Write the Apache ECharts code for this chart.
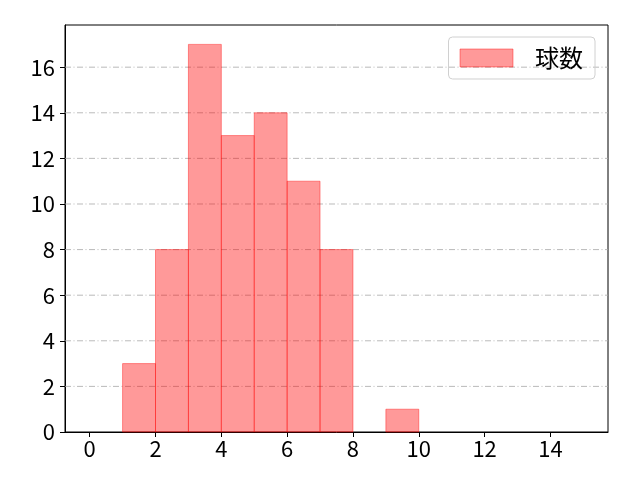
<!DOCTYPE html>
<html><head><meta charset="utf-8">
<script src="https://cdn.jsdelivr.net/npm/echarts@6/dist/echarts.min.js"></script>
<style>html,body{margin:0;padding:0;background:#fff}#c{width:640px;height:480px}</style>
</head><body><div id="c"></div>
<script>
const binStarts = [1, 2, 3, 4, 5, 6, 7, 8, 9];
const binEnds   = [2, 3, 4, 5, 6, 7, 8, 9, 10];
const counts    = [3, 8, 17, 13, 14, 11, 8, 0, 1];
const xTicks = [0, 2, 4, 6, 8, 10, 12, 14];
const yTicks = [0, 2, 4, 6, 8, 10, 12, 14, 16];
const seriesName = '球数';

const font = '"Noto Sans CJK JP", "DejaVu Sans", sans-serif';
const chart = echarts.init(document.getElementById('c'));
chart.setOption({
  animation: false,
  grid: {left: 65, right: 32, top: 25, bottom: 48, show: true, borderColor: '#000', borderWidth: 1},
  legend: {
    show: true, right: 45, top: 37, padding: [9, 12, 9, 11],
    itemWidth: 53, itemHeight: 18, itemGap: 10,
    borderColor: '#d0d0d0', borderWidth: 1, borderRadius: 4,
    textStyle: {fontFamily: font, fontSize: 24, color: '#000', padding: [0, 0, 0, 17]},
    data: [{name: seriesName, icon: 'rect', itemStyle: {color: 'rgba(255,0,0,0.4)', borderColor: 'rgba(255,0,0,0.4)', borderWidth: 1}}]
  },
  xAxis: {
    type: 'value', min: -0.75, max: 15.75,
    axisLine: {show: true, onZero: false, lineStyle: {color: '#000'}},
    axisTick: {show: true, length: 5, lineStyle: {color: '#000'}, customValues: xTicks},
    axisLabel: {fontFamily: font, fontSize: 22, color: '#000', margin: 6, customValues: xTicks},
    splitLine: {show: false}
  },
  yAxis: {
    type: 'value', min: 0, max: 17.85,
    axisLine: {show: true, onZero: false, lineStyle: {color: '#000'}},
    axisTick: {show: true, length: 5, lineStyle: {color: '#000'}, customValues: yTicks},
    axisLabel: {fontFamily: font, fontSize: 22, color: '#000', margin: 10, customValues: yTicks},
    splitLine: {show: false}
  },
  series: [
    {
      type: 'custom', name: 'grid', silent: true, z: 1,
      data: yTicks.filter(v => v > 0).map(v => [v]),
      renderItem: function (params, api) {
        const y = api.value(0);
        const p0 = api.coord([-0.75, y]);
        const p1 = api.coord([15.75, y]);
        return {type: 'line', shape: {x1: p0[0], y1: p0[1], x2: p1[0], y2: p1[1]},
          style: {stroke: '#a8a8a8', lineWidth: 0.8, lineDash: [6, 2.5, 1, 2.5]}};
      }
    },
    {
      type: 'custom', name: seriesName, z: 2,
      data: binStarts.map((s, i) => [s, binEnds[i], counts[i]]),
      renderItem: function (params, api) {
        if (api.value(2) <= 0) return null;
        const a = api.coord([api.value(0), api.value(2)]);
        const b = api.coord([api.value(1), 0]);
        return {type: 'rect', shape: {x: a[0], y: a[1], width: b[0] - a[0], height: b[1] - a[1]},
          style: {fill: 'rgba(255,0,0,0.4)', stroke: 'rgba(255,0,0,0.4)', lineWidth: 1}};
      }
    }
  ]
});
</script></body></html>
